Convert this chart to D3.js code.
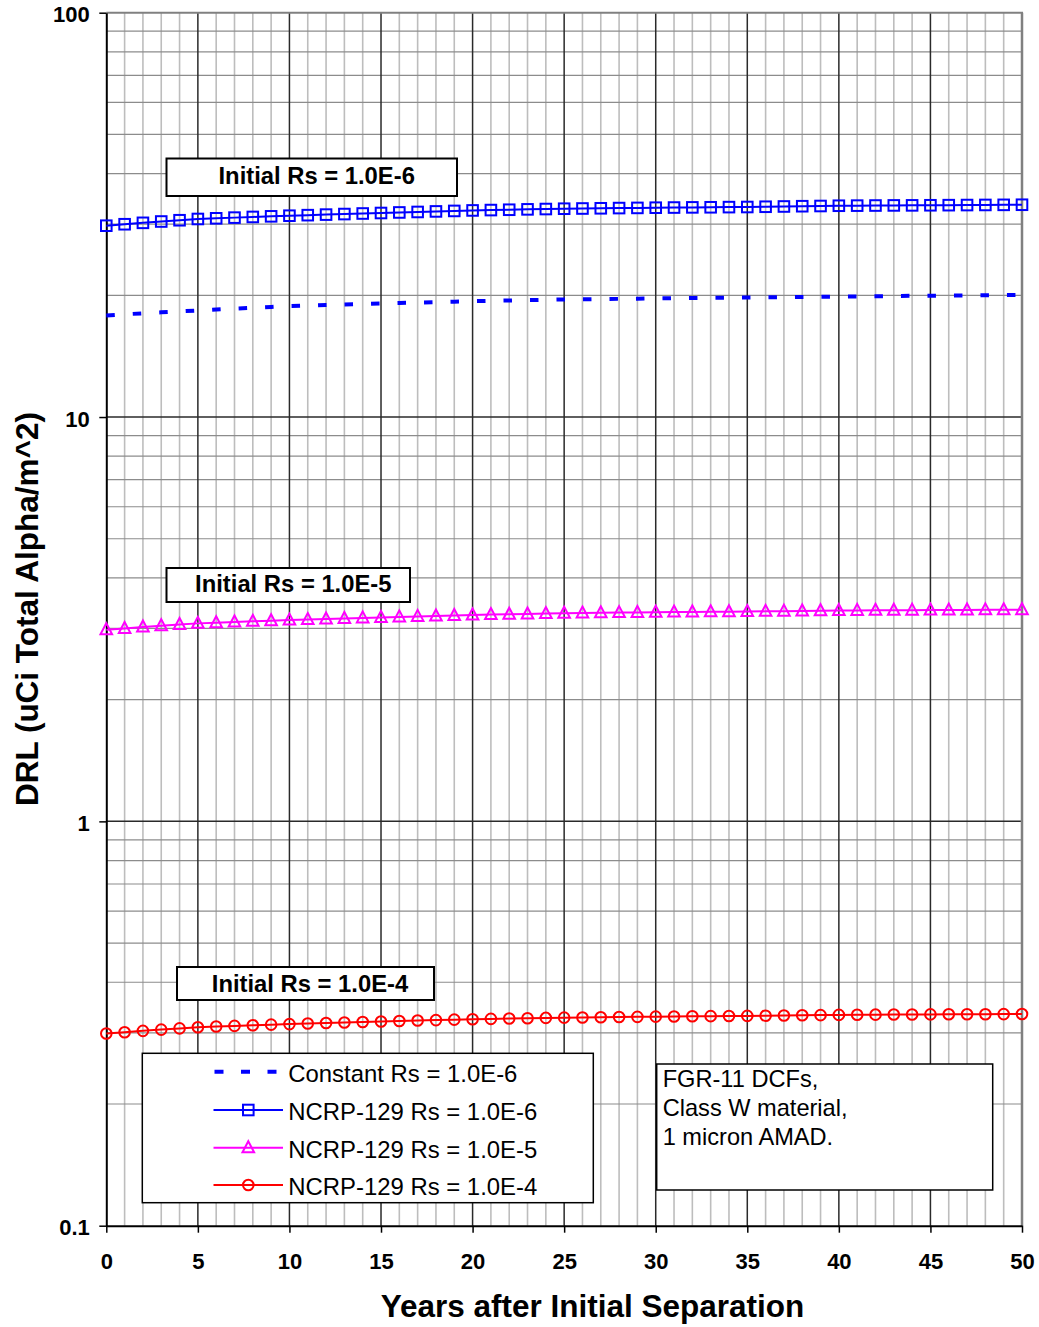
<!DOCTYPE html>
<html>
<head>
<meta charset="utf-8">
<script src="https://cdn.jsdelivr.net/npm/d3@7"></script>
<style>
  html, body { margin: 0; padding: 0; background: #fff; }
  svg { display: block; }
  text { font-family: "Liberation Sans", Arial, sans-serif; }
</style>
</head>
<body>
<svg id="chart" width="1039" height="1327"></svg>
<script>
// ---------------- DATA ----------------
const years = d3.range(0, 51); // 0..50

const constantRs6 = [17.84, 17.95, 18.05, 18.15, 18.25, 18.34, 18.44, 18.54, 18.63, 18.72,
  18.82, 18.87, 18.93, 18.98, 19.03, 19.09, 19.14, 19.19, 19.24, 19.29,
  19.34, 19.38, 19.42, 19.46, 19.50, 19.54, 19.56, 19.58, 19.60, 19.62,
  19.65, 19.67, 19.69, 19.72, 19.74, 19.76, 19.78, 19.80, 19.82, 19.84,
  19.86, 19.88, 19.90, 19.92, 19.94, 19.96, 19.97, 19.99, 20.00, 20.02, 20.04];

const ncrpRs6 = [29.73, 29.98, 30.22, 30.45, 30.67, 30.89, 31.01, 31.13, 31.25, 31.36,
  31.47, 31.57, 31.67, 31.77, 31.87, 31.96, 32.06, 32.15, 32.25, 32.34,
  32.43, 32.50, 32.56, 32.63, 32.69, 32.75, 32.79, 32.83, 32.87, 32.90,
  32.94, 32.97, 33.00, 33.02, 33.05, 33.07, 33.12, 33.17, 33.22, 33.26,
  33.31, 33.33, 33.35, 33.37, 33.38, 33.40, 33.42, 33.44, 33.46, 33.48, 33.50];

const ncrpRs5 = [2.978, 3.000, 3.025, 3.047, 3.068, 3.088, 3.100, 3.112, 3.124, 3.135,
  3.146, 3.156, 3.166, 3.176, 3.186, 3.195, 3.204, 3.213, 3.222, 3.231,
  3.240, 3.247, 3.253, 3.259, 3.265, 3.271, 3.275, 3.279, 3.283, 3.286,
  3.290, 3.293, 3.296, 3.298, 3.301, 3.303, 3.307, 3.311, 3.315, 3.319,
  3.323, 3.325, 3.327, 3.329, 3.330, 3.331, 3.332, 3.333, 3.335, 3.336, 3.337];

const ncrpRs4 = [0.2987, 0.3010, 0.3033, 0.3055, 0.3076, 0.3096, 0.3108, 0.3120, 0.3131, 0.3142,
  0.3152, 0.3162, 0.3172, 0.3181, 0.3190, 0.3199, 0.3208, 0.3217, 0.3225, 0.3233,
  0.3241, 0.3247, 0.3253, 0.3259, 0.3265, 0.3270, 0.3274, 0.3278, 0.3282, 0.3285,
  0.3289, 0.3292, 0.3295, 0.3298, 0.3301, 0.3303, 0.3307, 0.3311, 0.3315, 0.3318,
  0.3322, 0.3324, 0.3326, 0.3328, 0.3330, 0.3331, 0.3333, 0.3334, 0.3335, 0.3337, 0.3338];

const xTickValues = [0, 5, 10, 15, 20, 25, 30, 35, 40, 45, 50];
const yTickValues = [0.1, 1, 10, 100];
const yTickLabels = ["0.1", "1", "10", "100"];

const legendLabels = ["Constant Rs = 1.0E-6", "NCRP-129 Rs = 1.0E-6", "NCRP-129 Rs = 1.0E-5", "NCRP-129 Rs = 1.0E-4"];
const curveLabels = ["Initial Rs = 1.0E-6", "Initial Rs = 1.0E-5", "Initial Rs = 1.0E-4"];
const noteLines = ["FGR-11 DCFs,", "Class W material,", "1 micron AMAD."];
const xTitle = "Years after Initial Separation";
const yTitle = "DRL (uCi Total Alpha/m^2)";

// ---------------- LAYOUT ----------------
const L = 106.3, R = 1022, T = 12.7, B = 1225.7;
const svg = d3.select("#chart");
svg.append("rect").attr("width", 1039).attr("height", 1327).attr("fill", "#fff");

const x = d3.scaleLinear().domain([0, 50]).range([L, R]);
const y = d3.scaleLog().domain([0.1, 100]).range([B, T]);

// minor grid values
const xMinor = years.filter(v => v % 5 !== 0);
const yMinor = [];
[0.1, 1, 10].forEach(d => { for (let k = 2; k <= 9; k++) yMinor.push(+(d * k).toPrecision(3)); });

const grid = svg.append("g");
grid.selectAll(".vminor").data(xMinor).enter().append("line")
  .attr("x1", d => x(d)).attr("x2", d => x(d)).attr("y1", T).attr("y2", B)
  .attr("stroke", "#bdbdbd").attr("stroke-width", 1.6);
grid.selectAll(".hminor").data(yMinor).enter().append("line")
  .attr("x1", L).attr("x2", R).attr("y1", d => y(d)).attr("y2", d => y(d))
  .attr("stroke", "#8c8c8c").attr("stroke-width", 1.2);
grid.selectAll(".vmajor").data(xTickValues.filter(v => v > 0 && v < 50)).enter().append("line")
  .attr("x1", d => x(d)).attr("x2", d => x(d)).attr("y1", T).attr("y2", B)
  .attr("stroke", "#2a2a2a").attr("stroke-width", 1.5);
grid.selectAll(".hmajor").data([1, 10]).enter().append("line")
  .attr("x1", L).attr("x2", R).attr("y1", d => y(d)).attr("y2", d => y(d))
  .attr("stroke", "#2a2a2a").attr("stroke-width", 1.5);
// top and right border (gray)
grid.append("line").attr("x1", L).attr("x2", R + 1).attr("y1", T).attr("y2", T)
  .attr("stroke", "#808080").attr("stroke-width", 2);
grid.append("line").attr("x1", R).attr("x2", R).attr("y1", T).attr("y2", B)
  .attr("stroke", "#808080").attr("stroke-width", 2.5);

// axes
const xAxis = d3.axisBottom(x).tickValues(xTickValues).tickSize(7).tickSizeOuter(0).tickFormat(d3.format("d"));
const yAxis = d3.axisLeft(y).tickValues(yTickValues).tickSize(7).tickSizeOuter(0)
  .tickFormat((d, i) => yTickLabels[i]);

const gx = svg.append("g").attr("transform", `translate(0,${B})`).call(xAxis);
gx.select(".domain").attr("stroke", "#000").attr("stroke-width", 2);
gx.selectAll(".tick line").attr("stroke", "#000").attr("stroke-width", 1.5);
gx.selectAll(".tick text").attr("font-family", "Liberation Sans, Arial, sans-serif")
  .attr("font-size", 22).attr("font-weight", "bold").attr("fill", "#000")
  .attr("y", 43.5).attr("dy", 0);

const gy = svg.append("g").attr("transform", `translate(${L},0)`).call(yAxis);
gy.select(".domain").attr("stroke", "#000").attr("stroke-width", 2);
gy.selectAll(".tick line").attr("stroke", "#000").attr("stroke-width", 1.5);
gy.selectAll(".tick text").attr("font-family", "Liberation Sans, Arial, sans-serif")
  .attr("font-size", 22).attr("font-weight", "bold").attr("fill", "#000")
  .attr("x", -16.5).attr("dy", 0).attr("y", 9);

// axis titles
svg.append("text").attr("x", 592.5).attr("y", 1317).attr("text-anchor", "middle")
  .attr("font-size", 31.5).attr("font-weight", "bold").text(xTitle);
svg.append("text").attr("transform", "translate(37.5,609) rotate(-90)").attr("text-anchor", "middle")
  .attr("font-size", 31.5).attr("font-weight", "bold").text(yTitle);

// ---------------- SERIES ----------------
const line = d3.line().x((d, i) => x(years[i])).y(d => y(d));

// constant (dashed)
svg.append("path").datum(constantRs6).attr("d", line).attr("fill", "none")
  .attr("stroke", "#0000ff").attr("stroke-width", 4).attr("stroke-dasharray", "8.5,18");

function drawMarkerSeries(data, color, shape) {
  const g = svg.append("g");
  g.append("path").datum(data).attr("d", line).attr("fill", "none")
    .attr("stroke", color).attr("stroke-width", 2);
  const pts = g.selectAll(".m").data(data).enter();
  drawMarkers(pts, (d, i) => x(years[i]), d => y(d), color, shape);
}

function drawMarkers(sel, fx, fy, color, shape) {
  if (shape === "square") {
    sel.append("rect").attr("x", (d, i) => fx(d, i) - 5.3).attr("y", (d, i) => fy(d, i) - 5.3)
      .attr("width", 10.6).attr("height", 10.6).attr("fill", "none")
      .attr("stroke", color).attr("stroke-width", 2);
  } else if (shape === "triangle") {
    sel.append("path").attr("d", (d, i) => {
      const cx = fx(d, i), cy = fy(d, i);
      return `M${cx},${cy - 6.5}L${cx + 5.8},${cy + 4.5}L${cx - 5.8},${cy + 4.5}Z`;
    }).attr("fill", "none").attr("stroke", color).attr("stroke-width", 2);
  } else {
    sel.append("circle").attr("cx", (d, i) => fx(d, i)).attr("cy", (d, i) => fy(d, i))
      .attr("r", 5.3).attr("fill", "none").attr("stroke", color).attr("stroke-width", 2);
  }
}

drawMarkerSeries(ncrpRs6, "#0000ff", "square");
drawMarkerSeries(ncrpRs5, "#ff00ff", "triangle");
drawMarkerSeries(ncrpRs4, "#ff0000", "circle");

// ---------------- CURVE LABEL BOXES ----------------
const labelBoxes = [
  { x0: 166.5, x1: 457, y0: 158.5, y1: 196, tx: 316.7, ty: 184.3 },
  { x0: 166.5, x1: 410, y0: 568, y1: 602, tx: 293.3, ty: 592.3 },
  { x0: 177, x1: 434, y0: 967, y1: 1000, tx: 310, ty: 992 }
];
labelBoxes.forEach((b, i) => {
  svg.append("rect").attr("x", b.x0).attr("y", b.y0).attr("width", b.x1 - b.x0).attr("height", b.y1 - b.y0)
    .attr("fill", "#fff").attr("stroke", "#000").attr("stroke-width", 2);
  svg.append("text").attr("x", b.tx).attr("y", b.ty).attr("text-anchor", "middle")
    .attr("font-size", 23.8).attr("font-weight", "bold").text(curveLabels[i]);
});

// ---------------- LEGEND ----------------
const lg = svg.append("g");
lg.append("rect").attr("x", 142.3).attr("y", 1053.3).attr("width", 451).attr("height", 149.4)
  .attr("fill", "#fff").attr("stroke", "#000").attr("stroke-width", 1.5);
const legRows = [1071.7, 1110, 1147.7, 1185];
const legColors = ["#0000ff", "#0000ff", "#ff00ff", "#ff0000"];
const legShapes = [null, "square", "triangle", "circle"];
legRows.forEach((ry, i) => {
  const ln = lg.append("line").attr("x1", 213.5).attr("x2", 283).attr("y1", ry).attr("y2", ry)
    .attr("stroke", legColors[i]);
  if (i === 0) {
    ln.attr("stroke-width", 4).attr("stroke-dasharray", "9,17.5").attr("x1", 214.5);
  } else {
    ln.attr("stroke-width", 2);
    drawMarkers(lg.append("g").selectAll("x").data([0]).enter(), () => 248.3, () => ry, legColors[i], legShapes[i]);
  }
  lg.append("text").attr("x", 288.3).attr("y", ry + 10.3).attr("font-size", 23.9).text(legendLabels[i]);
});

// ---------------- NOTE BOX ----------------
svg.append("rect").attr("x", 656.7).attr("y", 1064).attr("width", 336).attr("height", 126)
  .attr("fill", "#fff").attr("stroke", "#000").attr("stroke-width", 1.5);
noteLines.forEach((t, i) => {
  svg.append("text").attr("x", 662.7).attr("y", 1086.7 + i * 29.2).attr("font-size", 23.6).text(t);
});
</script>
</body>
</html>
